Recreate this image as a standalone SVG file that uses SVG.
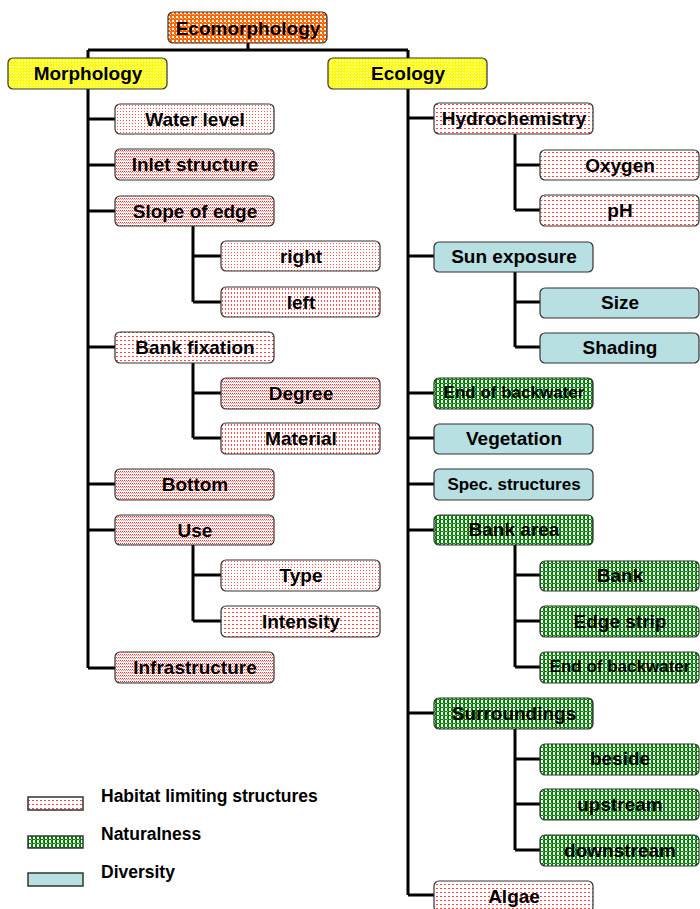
<svg xmlns="http://www.w3.org/2000/svg" width="700" height="909" viewBox="0 0 700 909">
<defs>
<pattern id="pOrange" width="4" height="4" patternUnits="userSpaceOnUse"><rect width="4" height="4" fill="#ff6600"/><rect x="0" y="0" width="2" height="2" fill="#ffffff"/><rect x="2" y="2" width="1" height="1" fill="#ffd0b0"/></pattern>
<pattern id="pYellow" width="3" height="3" patternUnits="userSpaceOnUse"><rect width="3" height="3" fill="#ffff00"/><rect x="0" y="0" width="1" height="1" fill="#ffffff"/><rect x="1" y="1" width="1" height="1" fill="#ffffc0"/></pattern>
<pattern id="pRedDots" width="3" height="3" patternUnits="userSpaceOnUse"><rect width="3" height="3" fill="#ffffff"/><rect x="0" y="0" width="1" height="1" fill="#ff5050"/></pattern>
<pattern id="pRedDense" width="2" height="3" patternUnits="userSpaceOnUse"><rect width="2" height="3" fill="#ffffff"/><rect x="0" y="0" width="1" height="1" fill="#ff3030"/><rect x="1" y="1" width="1" height="1" fill="#ff9090"/></pattern>
<pattern id="pRedDash" width="4" height="4" patternUnits="userSpaceOnUse"><rect width="4" height="4" fill="#ffffff"/><rect x="0" y="0" width="2" height="1" fill="#ff4040"/></pattern>
<pattern id="pRedVert" width="3" height="4" patternUnits="userSpaceOnUse"><rect width="3" height="4" fill="#ffffff"/><rect x="0" y="0" width="1" height="2" fill="#ff5050"/></pattern>
<pattern id="pGreen" width="4" height="4" patternUnits="userSpaceOnUse"><rect width="4" height="4" fill="#008000"/><rect x="1" y="0" width="2" height="3" fill="#ffffff"/><rect x="3" y="3" width="1" height="1" fill="#80c080"/></pattern>
</defs>
<style>
.box{stroke:#333333;stroke-width:1.2}
.t{font-family:"Liberation Sans",Arial,sans-serif;font-weight:bold;font-size:19px;fill:#000;text-anchor:middle}
.ts{font-size:17px}
.lt{font-family:"Liberation Sans",Arial,sans-serif;font-weight:bold;font-size:17.5px;fill:#000}
.orange{fill:url(#pOrange)}
.yellow{fill:url(#pYellow)}
.rdots{fill:url(#pRedDots)}
.rdense{fill:url(#pRedDense)}
.rdash{fill:url(#pRedDash)}
.rvert{fill:url(#pRedVert)}
.green{fill:url(#pGreen)}
.blue{fill:#b8dfe2}
.lg{stroke:#333333;stroke-width:1.5}
</style>
<rect width="700" height="909" fill="#ffffff"/>
<g id="connectors" stroke="#000" stroke-width="3" fill="none">
<path d="M248 43V50M88 50H408M88 50V58M408 50V58"/>
<path d="M88 89V668M88 119H115M88 165H115M88 211H115M88 347H115M88 484H115M88 530H115M88 668H115"/>
<path d="M193 226V302M193 256H221M193 302H221"/>
<path d="M193 363V438M193 393H221M193 438H221"/>
<path d="M193 545V621M193 575H221M193 621H221"/>
<path d="M408 89V895M408 118H434M408 256H434M408 393H434M408 438H434M408 484H434M408 530H434M408 713H434M408 895H434"/>
<path d="M515 134V210M515 165H540M515 210H540"/>
<path d="M515 272V347M515 302H540M515 347H540"/>
<path d="M515 545V667M515 575H540M515 621H540M515 667H540"/>
<path d="M515 729V850M515 759H540M515 804H540M515 850H540"/>
</g>
<g id="n-ecomorphology"><rect class="box orange" x="168" y="12" width="159" height="31" rx="5"/><text class="t" x="248" y="35">Ecomorphology</text></g>
<g id="n-morphology"><rect class="box yellow" x="8" y="58" width="159" height="31" rx="5"/><text class="t" x="88" y="80">Morphology</text></g>
<g id="n-ecology"><rect class="box yellow" x="328" y="58" width="159" height="31" rx="5"/><text class="t" x="408" y="80">Ecology</text></g>

<g id="n-waterlevel"><rect class="box rdots" x="115" y="104" width="159" height="30" rx="5"/><text class="t" x="195" y="126">Water level</text></g>
<g id="n-inlet"><rect class="box rdense" x="115" y="149" width="159" height="31" rx="5"/><text class="t" x="195" y="171">Inlet structure</text></g>
<g id="n-slope"><rect class="box rdense" x="115" y="196" width="159" height="30" rx="5"/><text class="t" x="195" y="218">Slope of edge</text></g>
<g id="n-right"><rect class="box rdots" x="221" y="241" width="159" height="30" rx="5"/><text class="t" x="301" y="263">right</text></g>
<g id="n-left"><rect class="box rvert" x="221" y="287" width="159" height="30" rx="5"/><text class="t" x="301" y="309">left</text></g>
<g id="n-bankfix"><rect class="box rdash" x="115" y="332" width="159" height="31" rx="5"/><text class="t" x="195" y="354">Bank fixation</text></g>
<g id="n-degree"><rect class="box rdense" x="221" y="378" width="159" height="31" rx="5"/><text class="t" x="301" y="400">Degree</text></g>
<g id="n-material"><rect class="box rvert" x="221" y="423" width="159" height="31" rx="5"/><text class="t" x="301" y="445">Material</text></g>
<g id="n-bottom"><rect class="box rdense" x="115" y="469" width="159" height="31" rx="5"/><text class="t" x="195" y="491">Bottom</text></g>
<g id="n-use"><rect class="box rdense" x="115" y="515" width="159" height="30" rx="5"/><text class="t" x="195" y="537">Use</text></g>
<g id="n-type"><rect class="box rdots" x="221" y="560" width="159" height="31" rx="5"/><text class="t" x="301" y="582">Type</text></g>
<g id="n-intensity"><rect class="box rdash" x="221" y="606" width="159" height="31" rx="5"/><text class="t" x="301" y="628">Intensity</text></g>
<g id="n-infrastructure"><rect class="box rdense" x="115" y="652" width="159" height="31" rx="5"/><text class="t" x="195" y="674">Infrastructure</text></g>

<g id="n-hydrochemistry"><rect class="box rdash" x="434" y="103" width="159" height="31" rx="5"/><text class="t" x="514" y="125">Hydrochemistry</text></g>
<g id="n-oxygen"><rect class="box rdash" x="540" y="150" width="159" height="30" rx="5"/><text class="t" x="620" y="172">Oxygen</text></g>
<g id="n-ph"><rect class="box rdash" x="540" y="195" width="159" height="31" rx="5"/><text class="t" x="620" y="217">pH</text></g>
<g id="n-sun"><rect class="box blue" x="434" y="242" width="159" height="30" rx="5"/><text class="t" x="514" y="263">Sun exposure</text></g>
<g id="n-size"><rect class="box blue" x="540" y="288" width="159" height="30" rx="5"/><text class="t" x="620" y="309">Size</text></g>
<g id="n-shading"><rect class="box blue" x="540" y="333" width="159" height="30" rx="5"/><text class="t" x="620" y="354">Shading</text></g>
<g id="n-endback1"><rect class="box green" x="434" y="378" width="159" height="31" rx="5"/><text class="t ts" x="514" y="398">End of backwater</text></g>
<g id="n-vegetation"><rect class="box blue" x="434" y="424" width="159" height="30" rx="5"/><text class="t" x="514" y="445">Vegetation</text></g>
<g id="n-spec"><rect class="box blue" x="434" y="469" width="159" height="31" rx="5"/><text class="t ts" x="514" y="490">Spec. structures</text></g>
<g id="n-bankarea"><rect class="box green" x="434" y="515" width="159" height="30" rx="5"/><text class="t" x="514" y="536">Bank area</text></g>
<g id="n-bank"><rect class="box green" x="540" y="561" width="159" height="30" rx="5"/><text class="t" x="620" y="582">Bank</text></g>
<g id="n-edgestrip"><rect class="box green" x="540" y="606" width="159" height="31" rx="5"/><text class="t" x="620" y="628">Edge strip</text></g>
<g id="n-endback2"><rect class="box green" x="540" y="652" width="159" height="31" rx="5"/><text class="t ts" x="620" y="672">End of backwater</text></g>
<g id="n-surroundings"><rect class="box green" x="434" y="698" width="159" height="31" rx="5"/><text class="t" x="514" y="720">Surroundings</text></g>
<g id="n-beside"><rect class="box green" x="540" y="744" width="159" height="31" rx="5"/><text class="t" x="620" y="765">beside</text></g>
<g id="n-upstream"><rect class="box green" x="540" y="789" width="159" height="31" rx="5"/><text class="t" x="620" y="811">upstream</text></g>
<g id="n-downstream"><rect class="box green" x="540" y="835" width="159" height="31" rx="5"/><text class="t" x="620" y="857">downstream</text></g>
<g id="n-algae"><rect class="box rdash" x="434" y="881" width="159" height="31" rx="5"/><text class="t" x="514" y="903">Algae</text></g>

<g id="legend">
<rect class="lg rdash" x="28" y="797" width="55" height="13"/>
<text class="lt" x="101" y="802">Habitat limiting structures</text>
<rect class="lg green" x="28" y="836" width="55" height="12"/>
<text class="lt" x="101" y="840">Naturalness</text>
<rect class="lg blue" x="28" y="873" width="55" height="13"/>
<text class="lt" x="101" y="878">Diversity</text>
</g>
</svg>
